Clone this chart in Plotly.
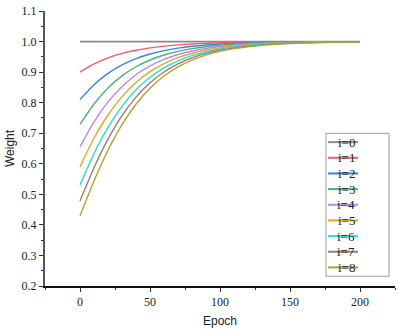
import plotly.graph_objects as go

epochs = [0, 10, 20, 30, 40, 50, 60, 70, 80, 90, 100, 110, 120, 130, 140, 150, 160, 170, 180, 190, 200]

w0 = [1.0] * 21
w1 = [0.900, 0.9267, 0.9465, 0.9611, 0.9717, 0.9795, 0.9851, 0.9892, 0.9922, 0.9944, 0.9959, 0.9971, 0.9979, 0.9985, 0.9989, 0.9992, 0.9994, 0.9996, 0.9997, 0.9998, 0.9998]
w2 = [0.810, 0.8588, 0.8958, 0.9237, 0.9442, 0.9594, 0.9705, 0.9786, 0.9845, 0.9888, 0.9919, 0.9941, 0.9957, 0.9969, 0.9978, 0.9984, 0.9988, 0.9992, 0.9994, 0.9996, 0.9997]
w3 = [0.729, 0.7958, 0.8479, 0.8876, 0.9175, 0.9397, 0.9561, 0.9680, 0.9768, 0.9832, 0.9878, 0.9912, 0.9936, 0.9954, 0.9967, 0.9976, 0.9983, 0.9987, 0.9991, 0.9993, 0.9995]
w4 = [0.656, 0.7375, 0.8025, 0.8531, 0.8915, 0.9204, 0.9419, 0.9576, 0.9692, 0.9777, 0.9838, 0.9883, 0.9915, 0.9938, 0.9956, 0.9968, 0.9977, 0.9983, 0.9988, 0.9991, 0.9994]
w5 = [0.590, 0.6834, 0.7596, 0.8199, 0.8663, 0.9016, 0.9279, 0.9473, 0.9617, 0.9722, 0.9798, 0.9853, 0.9894, 0.9923, 0.9945, 0.9960, 0.9971, 0.9979, 0.9985, 0.9989, 0.9992]
w6 = [0.531, 0.6334, 0.7190, 0.7880, 0.8419, 0.8831, 0.9141, 0.9371, 0.9542, 0.9667, 0.9758, 0.9824, 0.9873, 0.9908, 0.9934, 0.9952, 0.9965, 0.9975, 0.9982, 0.9987, 0.9990]
w7 = [0.478, 0.5869, 0.6805, 0.7573, 0.8181, 0.8650, 0.9005, 0.9271, 0.9468, 0.9613, 0.9718, 0.9795, 0.9852, 0.9893, 0.9923, 0.9944, 0.9960, 0.9971, 0.9978, 0.9985, 0.9989]
w8 = [0.430, 0.5439, 0.6441, 0.7278, 0.7949, 0.8472, 0.8871, 0.9171, 0.9394, 0.9558, 0.9679, 0.9767, 0.9831, 0.9878, 0.9911, 0.9936, 0.9954, 0.9966, 0.9975, 0.9982, 0.9987]

series = [w0, w1, w2, w3, w4, w5, w6, w7, w8]
names = ["i=0", "i=1", "i=2", "i=3", "i=4", "i=5", "i=6", "i=7", "i=8"]
colors = ["#8a8a8a", "#ff5a5a", "#3a82e6", "#4cb07a", "#b888f0", "#e0a828", "#30d8d8", "#a07870", "#a8a830"]

y_ticks = [0.2, 0.3, 0.4, 0.5, 0.6, 0.7, 0.8, 0.9, 1.0, 1.1]
y_labels = ["0.2", "0.3", "0.4", "0.5", "0.6", "0.7", "0.8", "0.9", "1.0", "1.1"]
x_ticks = [0, 50, 100, 150, 200]
x_labels = ["0", "50", "100", "150", "200"]

W, H = 399, 330
ML, MR, MT, MB = 45, 4, 8, 41
PW, PH = W - ML - MR, H - MT - MB


def px(xp):
    return (xp - ML) / PW


def py(yp):
    return (H - MB - yp) / PH


fig = go.Figure()
for ys, nm, c in zip(series, names, colors):
    fig.add_trace(go.Scatter(x=epochs, y=ys, name=nm, mode="lines", showlegend=False,
                             line=dict(color=c, width=1.4 if nm != "i=0" else 1.8,
                                       shape="spline", smoothing=0.6)))

# manual compact legend (box, line samples, labels)
shapes = [dict(type="rect", xref="paper", yref="paper",
               x0=px(326), x1=px(389), y0=py(279), y1=py(133),
               line=dict(color="#999", width=1), fillcolor="white", layer="above")]
annotations = []
for k, (nm, c) in enumerate(zip(names, colors)):
    yy = 142 + 16 * k
    shapes.append(dict(type="line", xref="paper", yref="paper",
                       x0=px(328), x1=px(358), y0=py(yy), y1=py(yy),
                       line=dict(color=c, width=2), layer="above"))
    annotations.append(dict(text=nm, xref="paper", yref="paper", x=px(346), y=py(yy),
                            xanchor="center", yanchor="middle", showarrow=False,
                            font=dict(family="Liberation Serif", size=13, color="#222")))

fig.update_layout(
    width=W, height=H,
    margin=dict(l=ML, r=MR, t=MT, b=MB),
    plot_bgcolor="white", paper_bgcolor="white",
    font=dict(family="Liberation Serif", size=12, color="#222"),
    showlegend=False,
    shapes=shapes, annotations=annotations,
    xaxis=dict(range=[-25, 225], tickvals=x_ticks, ticktext=x_labels,
               showgrid=False, zeroline=False, showline=True, linecolor="#111", linewidth=1.5,
               ticks="outside", ticklen=4, tickcolor="#333",
               minor=dict(tickvals=[-25, 25, 75, 125, 175, 225], ticks="outside", ticklen=2, tickcolor="#333"),
               title=dict(text="Epoch", font=dict(family="Liberation Sans", size=12), standoff=8)),
    yaxis=dict(range=[0.2, 1.1], tickvals=y_ticks, ticktext=y_labels,
               showgrid=False, zeroline=False, showline=True, linecolor="#555", linewidth=2,
               ticks="outside", ticklen=4, tickcolor="#333",
               minor=dict(tickvals=[0.25, 0.35, 0.45, 0.55, 0.65, 0.75, 0.85, 0.95, 1.05], ticks="outside", ticklen=2, tickcolor="#333"),
               title=dict(text="Weight", font=dict(family="Liberation Sans", size=12), standoff=4)),
)

fig.write_html("out.html", config={"displayModeBar": False},
               post_script="document.body.style.margin='0';")
